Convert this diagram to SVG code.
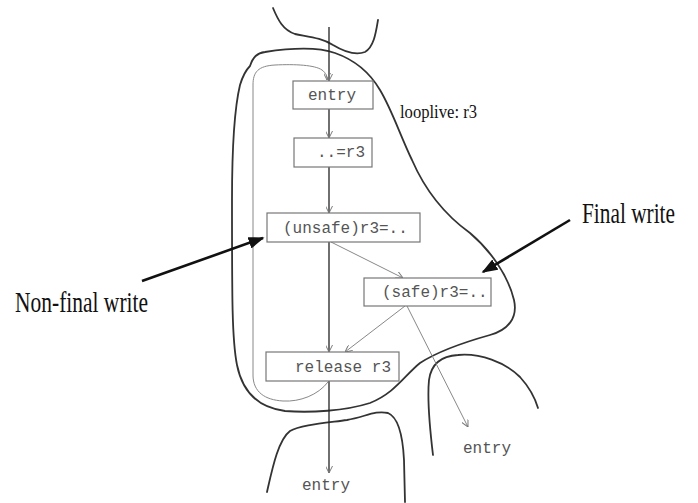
<svg xmlns="http://www.w3.org/2000/svg" width="698" height="503" viewBox="0 0 698 503">
<style>
.bg{fill:#fff}
.region{fill:none;stroke:#333;stroke-width:1.8;stroke-linecap:round;stroke-linejoin:round}
.box{fill:#fff;stroke:#777;stroke-width:1.2}
.mono{font-family:"Liberation Mono","DejaVu Sans Mono",monospace;font-size:16px;fill:#555}
.serif{font-family:"Liberation Serif","Times New Roman",serif;fill:#111}
.main{fill:none;stroke:#222;stroke-width:1.3}
.thin{fill:none;stroke:#888;stroke-width:1}
.pointer{fill:none;stroke:#111;stroke-width:2.6}
</style>
<defs>
<marker id="v" viewBox="0 0 10 10" refX="10" refY="5" markerWidth="7" markerHeight="7" markerUnits="userSpaceOnUse" orient="auto">
<path d="M0,0 L10,5 L0,10" fill="none" stroke="#777" stroke-width="1.4"/>
</marker>
<marker id="solid" viewBox="0 0 10 10" refX="9" refY="5" markerWidth="16" markerHeight="12" markerUnits="userSpaceOnUse" orient="auto" preserveAspectRatio="none">
<path d="M0,0 L10,5 L0,10 Z" fill="#111"/>
</marker>
</defs>
<rect class="bg" x="0" y="0" width="698" height="503"/>

<g id="regions">
<path id="top-region" class="region" d="M273,8 C278,20 283,30 295,34 C310,37 322,38 333,45 C343,51 355,56 365,52 C374,47 376,32 378,20"/>
<path id="loop-region" class="region" d="M250,66 C253,57 257,53 265,52 C285,49 315,46 335,53 C355,60 370,73 380,90 C392,110 400,135 412,160 C425,190 445,215 470,233 C490,250 508,275 514,300 C518,318 508,330 490,335 C465,342 440,350 420,363 C405,375 395,393 370,403 C345,411 310,413 285,411 C262,408 243,395 237,365 C232,340 232,300 232,200 C232,150 234,110 240,85 C243,75 246,70 250,66 Z"/>
<path id="bottom-left-region" class="region" d="M267,492 C272,470 278,440 290,431 C300,425 325,423 347,420 C365,417 375,410 388,413 C400,418 403,440 404,460 L405,502"/>
<path id="bottom-right-region" class="region" d="M433,455 C430,430 427,400 429,380 C431,365 440,356 458,355 C480,353 505,362 520,377 C530,388 535,398 538,408"/>
</g>

<g id="connectors">
<line class="main" x1="329" y1="27" x2="329" y2="81" marker-end="url(#v)"/>
<line class="main" x1="329" y1="109" x2="329" y2="138" marker-end="url(#v)"/>
<line class="main" x1="329" y1="167" x2="329" y2="213" marker-end="url(#v)"/>
<line class="main" x1="329" y1="242" x2="329" y2="352" marker-end="url(#v)"/>
<line class="main" x1="329" y1="381" x2="329" y2="473" marker-end="url(#v)"/>
<line class="thin" x1="331" y1="242" x2="403" y2="278" marker-end="url(#v)"/>
<line class="thin" x1="405" y1="306" x2="345" y2="352" marker-end="url(#v)"/>
<line class="thin" x1="407" y1="306" x2="468" y2="427" marker-end="url(#v)"/>
<path class="thin" d="M328,382 C318,395 300,402 283,401 C265,400 253,392 253,375 L253,85 C253,72 258,66 275,65 C295,64 315,65 322,70 C326,73 327,76 327,80" marker-end="url(#v)"/>
<line class="pointer" x1="142" y1="281" x2="263" y2="238" marker-end="url(#solid)"/>
<line class="pointer" x1="570" y1="220" x2="483" y2="272" marker-end="url(#solid)"/>
</g>

<g id="n-entry">
<rect class="box" x="293" y="81" width="80" height="28"/>
<text class="mono" x="308" y="100">entry</text>
</g>
<g id="n-use">
<rect class="box" x="294" y="138" width="78" height="29"/>
<text class="mono" x="317" y="157">..=r3</text>
</g>
<g id="n-unsafe">
<rect class="box" x="267" y="213" width="153" height="29"/>
<text class="mono" x="283" y="233">(unsafe)r3=..</text>
</g>
<g id="n-safe">
<rect class="box" x="364" y="278" width="127" height="28"/>
<text class="mono" x="382" y="297">(safe)r3=..</text>
</g>
<g id="n-release">
<rect class="box" x="266" y="352" width="133" height="29"/>
<text class="mono" x="295" y="372">release r3</text>
</g>
<g id="n-exit-bottom">
<text class="mono" x="302" y="490">entry</text>
</g>
<g id="n-exit-right">
<text class="mono" x="463" y="453">entry</text>
</g>

<g id="labels">
<text class="serif" x="400" y="118" font-size="18" textLength="77" lengthAdjust="spacingAndGlyphs">looplive: r3</text>
<text class="serif" transform="translate(582,223) scale(1,1.4)" x="0" y="0" font-size="21.5" textLength="93" lengthAdjust="spacingAndGlyphs">Final write</text>
<text class="serif" transform="translate(15,312) scale(1,1.4)" x="0" y="0" font-size="21.5" textLength="133" lengthAdjust="spacingAndGlyphs">Non-final write</text>
</g>
</svg>
